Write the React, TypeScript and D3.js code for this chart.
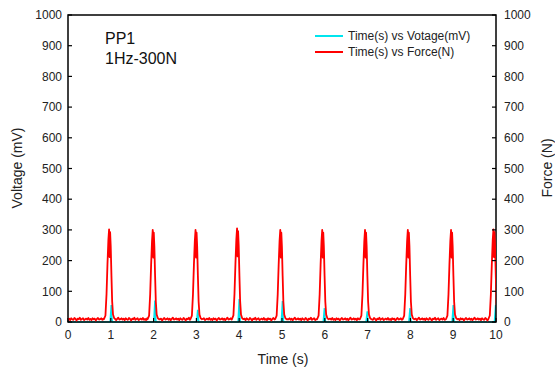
import React from "react";
import * as d3 from "d3";

const xTicks = [0, 1, 2, 3, 4, 5, 6, 7, 8, 9, 10];
const yTicks = [0, 100, 200, 300, 400, 500, 600, 700, 800, 900, 1000];

// pulse centres (s), peak force (N), voltage spike (mV)
const peakTimes = [0.98, 2.0, 3.0, 3.97, 4.98, 5.96, 6.96, 7.96, 8.97, 9.96];
const peakForces = [302, 300, 300, 305, 300, 300, 300, 300, 300, 302];
const spikeVoltages = [55, 70, 40, 75, 68, 45, 35, 45, 55, 55];

// shape of one force pulse (offset s, fraction of peak)
const pulseOffsets = [-0.14, -0.105, -0.08, -0.058, -0.037, -0.02, -0.008, 0.004, 0.018, 0.035, 0.052, 0.072, 0.1, 0.13];
const pulseFractions = [0.03, 0.07, 0.3, 0.62, 0.88, 1.0, 0.7, 0.97, 0.82, 0.5, 0.22, 0.08, 0.04, 0.03];

// voltage spike shape (offset s, fraction of spike)
const spikeOffsets = [0.005, 0.02, 0.032, 0.042, 0.055];
const spikeFractions = [0, 0.55, 1, 0.35, 0];

// baseline force jitter (N), read as a noisy band of ~4–14 N
const baselineNoise = [8, 11, 6, 12, 9, 7, 13, 10, 5, 11, 9, 14, 7, 10, 12, 6, 9, 11, 8, 13, 7, 10, 6, 12, 9, 11, 5, 10, 13, 8, 9, 12, 7, 11, 6, 10, 14, 8, 9, 12];

const W = 555;
const H = 369;
const M = { left: 68, right: 496, top: 15, bottom: 322 };

function buildForce(): [number, number][] {
  const pts: [number, number][] = [];
  const step = 0.025;
  let k = 0;
  for (let i = 0; i * step <= 10.2; i++) {
    const t = i * step;
    const near = peakTimes.some((p) => Math.abs(t - p) < 0.145);
    if (!near) {
      pts.push([t, baselineNoise[k % baselineNoise.length]]);
      k++;
    }
  }
  peakTimes.forEach((p, j) => {
    pulseOffsets.forEach((o, m) => {
      pts.push([p + o, pulseFractions[m] * peakForces[j]]);
    });
  });
  pts.sort((a, b) => a[0] - b[0]);
  return pts;
}

function buildVoltage(): [number, number][] {
  const pts: [number, number][] = [[0, 0]];
  peakTimes.forEach((p, j) => {
    spikeOffsets.forEach((o, m) => {
      pts.push([p + o, spikeFractions[m] * spikeVoltages[j]]);
    });
  });
  pts.push([10.2, 0]);
  pts.sort((a, b) => a[0] - b[0]);
  return pts;
}

export default function App() {
  const x = d3.scaleLinear().domain([0, 10]).range([M.left, M.right]);
  const y = d3.scaleLinear().domain([0, 1000]).range([M.bottom, M.top]);
  const line = d3
    .line<[number, number]>()
    .x((d) => x(d[0]))
    .y((d) => y(d[1]));
  const force = buildForce();
  const volt = buildVoltage();
  const font = "'Liberation Sans', Arial, sans-serif";
  const tc = "#222";

  return (
    <svg
      width={W}
      height={H}
      style={{ position: "fixed", left: 0, top: 0, background: "#fff" }}
      fontFamily={font}
    >
      <defs>
        <clipPath id="plotclip">
          <rect x={M.left} y={M.top} width={M.right - M.left} height={M.bottom - M.top + 3} />
        </clipPath>
      </defs>
      <rect x={0} y={0} width={W} height={H} fill="#fff" />

      <g clipPath="url(#plotclip)">
        <path d={line(volt) || ""} fill="none" stroke="#00e5ee" strokeWidth={1.6} />
      </g>

      {/* frame */}
      <rect
        x={M.left}
        y={M.top}
        width={M.right - M.left}
        height={M.bottom - M.top}
        fill="none"
        stroke="#000"
        strokeWidth={1.5}
      />

      <g clipPath="url(#plotclip)">
        <path d={line(force) || ""} fill="none" stroke="#ff0000" strokeWidth={1.8} strokeLinejoin="round" />
      </g>

      {/* left / right ticks + labels */}
      {yTicks.map((v) => (
        <g key={"l" + v}>
          <line x1={M.left} x2={M.left + 4} y1={y(v)} y2={y(v)} stroke="#000" strokeWidth={1.2} />
          <text x={M.left - 6} y={y(v)} dy="0.35em" textAnchor="end" fontSize={12} fill={tc}>
            {v}
          </text>
          <line x1={M.right} x2={M.right - 4} y1={y(v)} y2={y(v)} stroke="#000" strokeWidth={1.2} />
          <text x={M.right + 8} y={y(v)} dy="0.35em" textAnchor="start" fontSize={12} fill={tc}>
            {v}
          </text>
        </g>
      ))}

      {/* bottom ticks + labels */}
      {xTicks.map((v) => (
        <g key={"b" + v}>
          <line x1={x(v)} x2={x(v)} y1={M.bottom} y2={M.bottom - 4} stroke="#000" strokeWidth={1.2} />
          <text x={x(v)} y={M.bottom + 17} textAnchor="middle" fontSize={12} fill={tc}>
            {v}
          </text>
        </g>
      ))}

      {/* axis titles */}
      <text x={283} y={364} textAnchor="middle" fontSize={14} fill={tc}>
        Time (s)
      </text>
      <text transform={`translate(22,168) rotate(-90)`} textAnchor="middle" fontSize={14} fill={tc}>
        Voltage (mV)
      </text>
      <text transform={`translate(552,168) rotate(-90)`} textAnchor="middle" fontSize={14} fill={tc}>
        Force (N)
      </text>

      {/* annotation */}
      <text x={105} y={44} fontSize={16} fill="#111">
        PP1
      </text>
      <text x={105} y={64} fontSize={16} fill="#111">
        1Hz-300N
      </text>

      {/* legend */}
      <line x1={315} x2={343} y1={36} y2={36} stroke="#00e5ee" strokeWidth={2} />
      <text x={348} y={36} dy="0.35em" fontSize={12} fill={tc}>
        Time(s) vs Votage(mV)
      </text>
      <line x1={315} x2={343} y1={52} y2={52} stroke="#ff0000" strokeWidth={2} />
      <text x={348} y={52} dy="0.35em" fontSize={12} fill={tc}>
        Time(s) vs Force(N)
      </text>
    </svg>
  );
}
